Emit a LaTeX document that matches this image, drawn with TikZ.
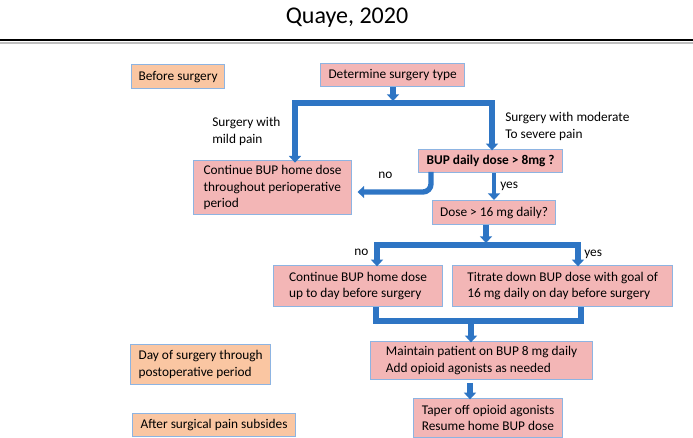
\documentclass[tikz,border=0pt]{standalone}
\usepackage{fontspec}
\setmainfont{Carlito}
\usetikzlibrary{arrows.meta}
\definecolor{FlowPink}{RGB}{243,182,182}
\definecolor{FlowPeach}{RGB}{250,198,162}
\definecolor{FlowEdge}{RGB}{141,180,226}
\definecolor{FlowBlue}{RGB}{46,117,196}

\begin{document}
\begin{tikzpicture}[x=0.75pt, y=-0.75pt,
  card/.style={draw=FlowEdge, line width=0.9pt, anchor=north west,
               align=left, inner xsep=4pt, inner ysep=1pt,
               font=\fontsize{10}{12.4}\selectfont},
  decision/.style={card, fill=FlowPink},
  phase/.style={card, fill=FlowPeach},
  pipe/.style={draw=FlowBlue, line width=4pt},
  thinpipe/.style={draw=FlowBlue, line width=2.4pt},
  tip/.style={-{Triangle[length=5pt, width=9pt]}},
  twotip/.style={{Triangle[length=5pt, width=9pt]}-{Triangle[length=5pt, width=9pt]}},
  note/.style={anchor=north west, inner sep=0pt, align=left,
               font=\fontsize{10}{12.4}\selectfont}
]
\useasboundingbox (0,0) rectangle (693,438);

% header
\node (title) at (347,18) {\fontsize{18}{20}\selectfont Quaye, 2020};
\draw[black!25, line width=2pt] (0,43) -- (693,43);
\draw[black, line width=1.8pt] (0,40) -- (693,40);

% phases on the left
\node[phase, minimum width=69.75pt, minimum height=18pt] (before) at (131,64) {Before surgery};
\node[phase, minimum width=105pt, minimum height=30pt] (day) at (130,344)
  {Day of surgery through\\postoperative period};
\node[phase, minimum width=122.25pt, minimum height=17.25pt] (after) at (132,413)
  {After surgical pain subsides};

% decision boxes
\node[decision, minimum width=108pt, minimum height=17.25pt] (type) at (320,63) {Determine surgery type};
\node[decision, minimum width=108pt, minimum height=17.25pt] (bup) at (418,149)
  {\textbf{BUP daily dose > 8mg ?}};
\node[decision, minimum width=118.5pt, minimum height=40.5pt] (cont1) at (193,160)
  {Continue BUP home dose\\throughout perioperative\\period};
\node[decision, minimum width=92.25pt, minimum height=18pt] (dose) at (432,200) {Dose > 16 mg daily?};
\node[decision, minimum width=126.75pt, minimum height=30.75pt] (cont2) at (273,265)
  {Continue BUP home dose\\up to day before surgery};
\node[decision, minimum width=165pt, minimum height=30.75pt] (titr) at (452,265)
  {Titrate down BUP dose with goal of\\16 mg daily on day before surgery};
\node[decision, minimum width=166.5pt, minimum height=28.5pt] (maint) at (370,341)
  {Maintain patient on BUP 8 mg daily\\Add opioid agonists as needed};
\node[decision, minimum width=111.75pt, minimum height=29.25pt] (taper) at (413,398)
  {Taper off opioid agonists\\Resume home BUP dose};

% branch labels
\node[note] (mild) at (212,117) {Surgery with\\mild pain};
\node[note] (severe) at (505,112) {Surgery with moderate\\To severe pain};
\node[note] (no1) at (378,172) {no};
\node[note] (yes1) at (500,182) {yes};
\node[note] (no2) at (354,249) {no};
\node[note] (yes2) at (584,250) {yes};

% fork points
\coordinate (fork1) at (393,103);
\coordinate (fork1l) at (295,103);
\coordinate (fork1r) at (492,103);
\coordinate (fork2) at (486,245);
\coordinate (fork2l) at (377,245);
\coordinate (fork2r) at (578,245);
\coordinate (join) at (471,321);
\coordinate (joinl) at (376,321);
\coordinate (joinr) at (581,321);

% connectors
\draw[pipe, tip] (type.south -| fork1) -- ([yshift=1.5pt]fork1);
\draw[pipe, twotip, line join=miter]
  ([yshift=-2pt]fork1l |- cont1.north) -- (fork1l) -- (fork1r) -- ([yshift=-1pt]fork1r |- bup.north);
\draw[pipe, tip, rounded corners=6pt] (431,172) |- ([xshift=4pt]cont1.east |- 0,192);
\draw[thinpipe, tip] (bup.south -| 494,0) -- (dose.north -| 494,0);
\draw[pipe, tip] (dose.south -| fork2) -- ([yshift=1.5pt]fork2);
\draw[pipe, twotip, line join=miter]
  ([yshift=-1pt]fork2l |- cont2.north) -- (fork2l) -- (fork2r) -- ([yshift=-1pt]fork2r |- titr.north);
\draw[pipe, line join=miter] (cont2.south -| joinl) -- (joinl) -- (joinr) -- (titr.south -| joinr);
\draw[pipe, tip] (join) -- ([yshift=-1pt]maint.north -| join);
\draw[pipe, tip] ([yshift=-2pt]maint.south -| 470,0) -- ([yshift=-1pt]taper.north -| 470,0);
\end{tikzpicture}
\end{document}
